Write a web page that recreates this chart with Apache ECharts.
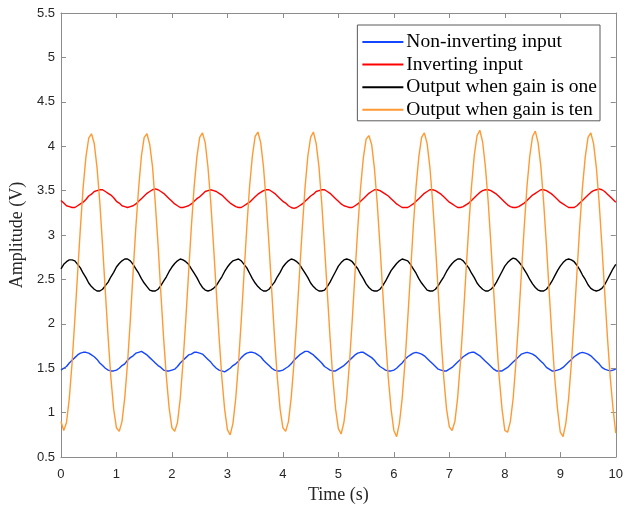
<!DOCTYPE html>
<html>
<head>
<meta charset="utf-8">
<script src="https://cdn.jsdelivr.net/npm/echarts@6/dist/echarts.min.js"></script>
<style>
  html, body { margin: 0; padding: 0; background: #fff; }
  #main { width: 626px; height: 509px; }
</style>
</head>
<body>
<div id="main"></div>
<script>
// sampled every 0.05 s, 0..10 s
const step = 0.05;

const seriesNames = ['Non-inverting input', 'Inverting input', 'Output when gain is one', 'Output when gain is ten'];
const seriesColors = ['#1446ff', '#ff0000', '#000000', '#ff9933'];

const nonInverting = [
  1.48,1.50,1.52,1.56,1.59,1.62,1.65,1.67,1.68,1.68,1.67,1.65,1.63,1.60,1.56,1.53,1.50,1.48,1.47,1.47,
  1.48,1.50,1.53,1.55,1.59,1.62,1.64,1.67,1.68,1.69,1.67,1.65,1.62,1.59,1.56,1.53,1.51,1.48,1.47,1.47,
  1.48,1.49,1.52,1.56,1.59,1.62,1.65,1.66,1.68,1.68,1.67,1.66,1.63,1.60,1.57,1.53,1.50,1.48,1.47,1.46,
  1.48,1.50,1.53,1.55,1.58,1.62,1.65,1.67,1.68,1.68,1.67,1.65,1.63,1.59,1.56,1.53,1.50,1.48,1.47,1.47,
  1.48,1.50,1.52,1.55,1.59,1.62,1.65,1.67,1.69,1.69,1.67,1.65,1.62,1.59,1.56,1.52,1.50,1.48,1.47,1.47,
  1.49,1.51,1.53,1.56,1.59,1.62,1.65,1.67,1.68,1.68,1.66,1.64,1.62,1.59,1.55,1.52,1.50,1.48,1.47,1.47,
  1.48,1.50,1.53,1.56,1.60,1.63,1.65,1.67,1.68,1.67,1.66,1.64,1.61,1.58,1.55,1.52,1.49,1.48,1.47,1.47,
  1.49,1.51,1.54,1.57,1.60,1.63,1.65,1.67,1.68,1.68,1.66,1.64,1.61,1.58,1.55,1.52,1.49,1.47,1.47,1.47,
  1.49,1.51,1.54,1.57,1.60,1.63,1.66,1.67,1.68,1.67,1.66,1.64,1.61,1.58,1.55,1.51,1.49,1.47,1.47,1.48,
  1.49,1.51,1.54,1.57,1.60,1.63,1.65,1.67,1.68,1.67,1.66,1.64,1.61,1.58,1.55,1.51,1.49,1.48,1.47,1.48,
  1.49
];

const inverting = [
  3.39,3.36,3.33,3.32,3.31,3.31,3.33,3.35,3.37,3.40,3.44,3.46,3.49,3.50,3.51,3.51,3.49,3.47,3.45,3.42,
  3.38,3.36,3.33,3.32,3.31,3.32,3.33,3.35,3.38,3.41,3.44,3.47,3.49,3.51,3.52,3.51,3.49,3.47,3.44,3.41,
  3.38,3.35,3.33,3.31,3.31,3.32,3.33,3.35,3.38,3.41,3.43,3.46,3.49,3.50,3.51,3.50,3.49,3.47,3.45,3.42,
  3.39,3.36,3.34,3.32,3.31,3.31,3.33,3.35,3.37,3.40,3.43,3.46,3.48,3.50,3.51,3.51,3.49,3.47,3.44,3.41,
  3.38,3.36,3.33,3.31,3.30,3.31,3.33,3.35,3.38,3.41,3.44,3.46,3.49,3.50,3.51,3.51,3.49,3.47,3.44,3.41,
  3.38,3.35,3.33,3.32,3.31,3.31,3.33,3.35,3.38,3.41,3.44,3.47,3.49,3.51,3.51,3.50,3.48,3.46,3.44,3.41,
  3.38,3.35,3.33,3.31,3.31,3.31,3.33,3.35,3.38,3.41,3.44,3.47,3.49,3.51,3.51,3.50,3.48,3.46,3.43,3.40,
  3.37,3.35,3.33,3.31,3.31,3.32,3.34,3.36,3.39,3.42,3.45,3.48,3.50,3.51,3.51,3.50,3.48,3.46,3.43,3.40,
  3.37,3.34,3.32,3.31,3.31,3.32,3.34,3.36,3.39,3.42,3.45,3.47,3.49,3.51,3.51,3.50,3.48,3.46,3.43,3.40,
  3.37,3.35,3.33,3.31,3.31,3.31,3.33,3.36,3.39,3.42,3.45,3.48,3.50,3.51,3.52,3.51,3.49,3.46,3.43,3.40,
  3.37
];

const gainOne = [
  2.62,2.67,2.70,2.72,2.72,2.71,2.67,2.63,2.57,2.52,2.46,2.42,2.39,2.37,2.37,2.39,2.43,2.47,2.53,2.58,
  2.64,2.68,2.71,2.73,2.73,2.71,2.67,2.62,2.57,2.51,2.46,2.42,2.38,2.37,2.37,2.39,2.43,2.48,2.53,2.59,
  2.64,2.68,2.71,2.73,2.72,2.70,2.67,2.62,2.57,2.52,2.46,2.41,2.38,2.37,2.38,2.40,2.43,2.48,2.53,2.59,
  2.64,2.68,2.71,2.72,2.73,2.71,2.67,2.63,2.57,2.51,2.46,2.42,2.39,2.37,2.37,2.39,2.43,2.47,2.53,2.58,
  2.64,2.68,2.71,2.73,2.72,2.70,2.67,2.62,2.57,2.52,2.46,2.42,2.39,2.37,2.37,2.38,2.42,2.47,2.53,2.59,
  2.65,2.69,2.72,2.73,2.72,2.70,2.66,2.62,2.56,2.51,2.45,2.41,2.38,2.37,2.37,2.39,2.43,2.48,2.54,2.60,
  2.64,2.68,2.71,2.73,2.72,2.71,2.67,2.62,2.57,2.51,2.46,2.42,2.38,2.37,2.37,2.39,2.43,2.48,2.53,2.59,
  2.64,2.68,2.71,2.73,2.73,2.71,2.67,2.63,2.57,2.52,2.46,2.42,2.39,2.37,2.37,2.39,2.42,2.47,2.53,2.59,
  2.65,2.69,2.72,2.74,2.73,2.70,2.66,2.61,2.56,2.50,2.45,2.41,2.38,2.37,2.37,2.39,2.43,2.48,2.54,2.60,
  2.65,2.69,2.72,2.73,2.72,2.70,2.66,2.61,2.55,2.50,2.44,2.40,2.38,2.37,2.38,2.40,2.44,2.50,2.56,2.62,
  2.67
];

const gainTen = [
  0.90,0.80,0.89,1.16,1.56,2.05,2.57,3.08,3.54,3.88,4.09,4.14,4.03,3.76,3.37,2.88,2.36,1.85,1.39,1.04,
  0.83,0.79,0.90,1.17,1.56,2.04,2.58,3.09,3.53,3.89,4.10,4.14,4.02,3.77,3.36,2.89,2.35,1.84,1.40,1.05,
  0.83,0.79,0.89,1.16,1.57,2.05,2.57,3.09,3.54,3.88,4.10,4.15,4.04,3.76,3.37,2.88,2.36,1.85,1.39,1.04,
  0.81,0.75,0.88,1.16,1.56,2.04,2.57,3.09,3.55,3.89,4.11,4.16,4.04,3.77,3.37,2.89,2.36,1.84,1.39,1.04,
  0.83,0.79,0.90,1.17,1.56,2.05,2.57,3.08,3.54,3.89,4.10,4.16,4.03,3.77,3.36,2.88,2.36,1.85,1.39,1.04,
  0.82,0.76,0.89,1.16,1.56,2.04,2.57,3.08,3.53,3.87,4.08,4.12,4.02,3.75,3.36,2.88,2.36,1.85,1.39,1.04,
  0.80,0.73,0.88,1.16,1.56,2.05,2.57,3.09,3.54,3.88,4.10,4.15,4.03,3.76,3.37,2.89,2.36,1.85,1.39,1.04,
  0.84,0.80,0.90,1.17,1.57,2.05,2.58,3.09,3.55,3.90,4.12,4.18,4.05,3.77,3.38,2.89,2.36,1.85,1.39,1.04,
  0.80,0.78,0.90,1.16,1.56,2.05,2.58,3.09,3.55,3.89,4.11,4.17,4.04,3.77,3.37,2.89,2.36,1.85,1.39,1.04,
  0.78,0.73,0.88,1.16,1.56,2.05,2.57,3.09,3.54,3.88,4.10,4.15,4.03,3.76,3.37,2.88,2.36,1.85,1.40,1.05,
  0.77
];

const allValues = [nonInverting, inverting, gainOne, gainTen];

const axisColor = '#8c8c8c';
const labelColor = '#262626';
const serif = '"Liberation Serif", "Times New Roman", serif';
const sans = '"Liberation Sans", Arial, sans-serif';

function withTime(values) {
    return values.map((v, i) => [+(i * step).toFixed(2), v]);
}

function boxAxis(extra) {
    return Object.assign({
        type: 'value',
        axisLine: { show: true, onZero: false, lineStyle: { color: axisColor, width: 1 } },
        axisTick: { show: true, inside: true, length: 5, lineStyle: { color: axisColor } },
        splitLine: { show: false },
        axisLabel: { show: false }
    }, extra);
}

const series = allValues.map((vals, i) => ({
    name: seriesNames[i],
    type: 'line',
    xAxisIndex: 0,
    yAxisIndex: 0,
    data: withTime(vals),
    showSymbol: false,
    symbol: 'none',
    lineStyle: { color: seriesColors[i], width: 1.4 },
    itemStyle: { color: seriesColors[i] },
    z: 2 + i
}));

const chart = echarts.init(document.getElementById('main'));
chart.setOption({
    backgroundColor: '#fff',
    animation: false,
    grid: { left: 58, right: 10, top: 13, bottom: 48 },
    legend: {
        orient: 'vertical',
        right: 26,
        top: 25,
        icon: 'rect',
        itemWidth: 41,
        itemHeight: 2,
        itemGap: 2.6,
        padding: [7, 3, 1, 5],
        backgroundColor: '#fff',
        borderColor: '#5a5a5a',
        borderWidth: 1,
        textStyle: { fontFamily: serif, fontSize: 19.5, color: '#000', lineHeight: 20, padding: [0, 0, 0, -2] },
        data: seriesNames
    },
    xAxis: [
        boxAxis({
            min: 0, max: 10, interval: 1,
            position: 'bottom',
            name: 'Time (s)',
            nameLocation: 'middle',
            nameGap: 27,
            nameTextStyle: { fontFamily: serif, fontSize: 18, color: labelColor },
            axisLabel: { show: true, fontFamily: sans, fontSize: 13, color: labelColor, margin: 11 }
        }),
        boxAxis({ min: 0, max: 10, interval: 1, position: 'top' })
    ],
    yAxis: [
        boxAxis({
            min: 0.5, max: 5.5, interval: 0.5,
            position: 'left',
            name: 'Amplitude (V)',
            nameLocation: 'middle',
            nameGap: 23,
            nameRotate: 90,
            nameTextStyle: { fontFamily: serif, fontSize: 18, color: labelColor },
            axisLabel: { show: true, fontFamily: sans, fontSize: 13, color: labelColor, margin: 6 }
        }),
        boxAxis({ min: 0.5, max: 5.5, interval: 0.5, position: 'right' })
    ],
    series: series
});
</script>
</body>
</html>
